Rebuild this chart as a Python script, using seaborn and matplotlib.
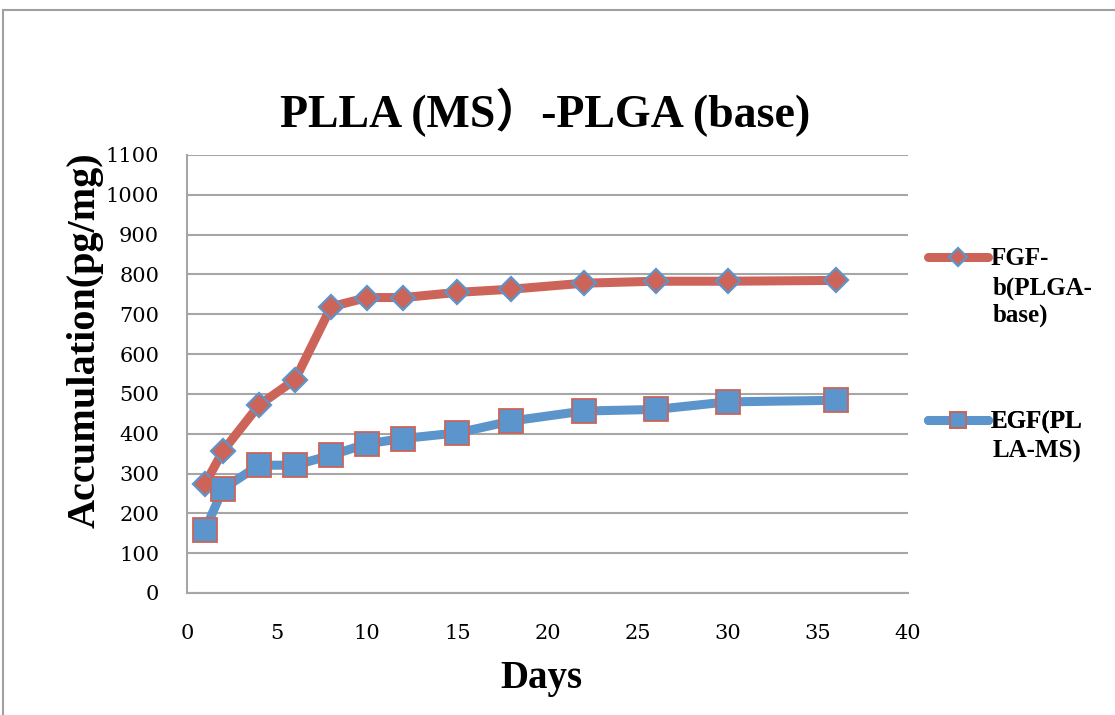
import matplotlib
matplotlib.use("Agg")
import matplotlib.pyplot as plt
import seaborn as sns
import pandas as pd
from matplotlib.patches import Rectangle

days = [1, 2, 4, 6, 8, 10, 12, 15, 18, 22, 26, 30, 36]
fgf_b = [274, 357, 472, 536, 719, 742, 742, 755, 763, 778, 783, 783, 785]
egf = [158, 262, 321, 321, 346, 375, 388, 402, 432, 457, 461, 480, 484]
legend_first = ["FGF-", "EGF(PL"]
legend_rest = ["b(PLGA-\nbase)", "LA-MS)"]
title = "PLLA (MS\uff09-PLGA (base)"
xlabel = "Days"
ylabel = "Accumulation(pg/mg)"
xticks = [0, 5, 10, 15, 20, 25, 30, 35, 40]
yticks = list(range(0, 1101, 100))

RED = "#CC6459"
BLUE = "#5B95CB"
GRID = "#A6A6A6"

sns.set_theme(style="white")
plt.rcParams["font.family"] = ["Liberation Serif", "Noto Sans CJK SC", "DejaVu Sans"]
plt.rcParams["text.color"] = "black"

W, H = 1115, 715
fig = plt.figure(figsize=(W / 100, H / 100), dpi=100)
fig.patches.append(Rectangle((3 / W, -0.2), 1.2, 0.2 + 1 - 10 / H,
                             transform=fig.transFigure, fill=False,
                             edgecolor="#A0A0A0", lw=1.5, zorder=0))
ax = fig.add_axes([187 / W, 1 - 593 / H, (908 - 187) / W, (593 - 155) / H])

df = pd.DataFrame({"day": days, "fgf": fgf_b, "egf": egf})

sns.lineplot(data=df, x="day", y="fgf", ax=ax, color=RED, lw=6.5,
             marker="D", markersize=12.5, markerfacecolor=RED,
             markeredgecolor=BLUE, markeredgewidth=1.6,
             label=legend_first[0], zorder=3, legend=False)
sns.lineplot(data=df, x="day", y="egf", ax=ax, color=BLUE, lw=6.5,
             marker="s", markersize=17.5, markerfacecolor=BLUE,
             markeredgecolor=RED, markeredgewidth=1.3,
             label=legend_first[1], zorder=3, legend=False)

ax.set_xlim(0, 40)
ax.set_ylim(0, 1100)
ax.set_xticks(xticks)
ax.set_yticks(yticks)
tick_font = {"family": "DejaVu Serif", "size": 15}
ax.set_xticklabels([str(t) for t in xticks], fontdict=tick_font)
ax.set_yticklabels([str(t) for t in yticks], fontdict=tick_font)
ax.tick_params(axis="x", length=0, pad=22, colors="black")
ax.tick_params(axis="y", length=0, pad=20, colors="black")
ax.grid(axis="y", color=GRID, lw=1.5)
ax.grid(axis="x", visible=False)
for s in ["top", "right"]:
    ax.spines[s].set_visible(False)
for s in ["left", "bottom"]:
    ax.spines[s].set_color(GRID)
    ax.spines[s].set_linewidth(1.5)

ax.set_xlabel(xlabel, fontsize=28, fontweight="bold", color="black")
ax.xaxis.set_label_coords((541 - 187) / 721, -(660 - 593) / 438)
ax.set_ylabel(ylabel, fontsize=29, fontweight="bold", color="black")
ax.yaxis.set_label_coords(-(187 - 104) / 721, (593 - 340) / 438)
fig.text(545 / W, 1 - 112 / H, title, fontsize=33, fontweight="bold",
         ha="center", va="center", color="black")

# legend: one entry per legend, handle aligned with first text line
lines = ax.get_lines()
leg_y = [259, 422]
for i in range(2):
    leg = ax.legend([lines[i]], [legend_first[i]], loc="center left",
                    bbox_to_anchor=(928 / W, 1 - leg_y[i] / H),
                    bbox_transform=fig.transFigure, frameon=False,
                    prop={"size": 18, "weight": "bold"}, handlelength=2.4,
                    handletextpad=0.1, borderpad=0, borderaxespad=0)
    for h in leg.legend_handles:
        h.set_markersize(9.5 if i == 0 else 11)
    for t in leg.get_texts():
        t.set_color("black")
    ax.add_artist(leg)
    fig.text(993 / W, 1 - (leg_y[i] + 18) / H, legend_rest[i], fontsize=18,
             fontweight="bold", ha="left", va="top", linespacing=1.2,
             color="black")

fig.savefig("out.png", dpi=100)
